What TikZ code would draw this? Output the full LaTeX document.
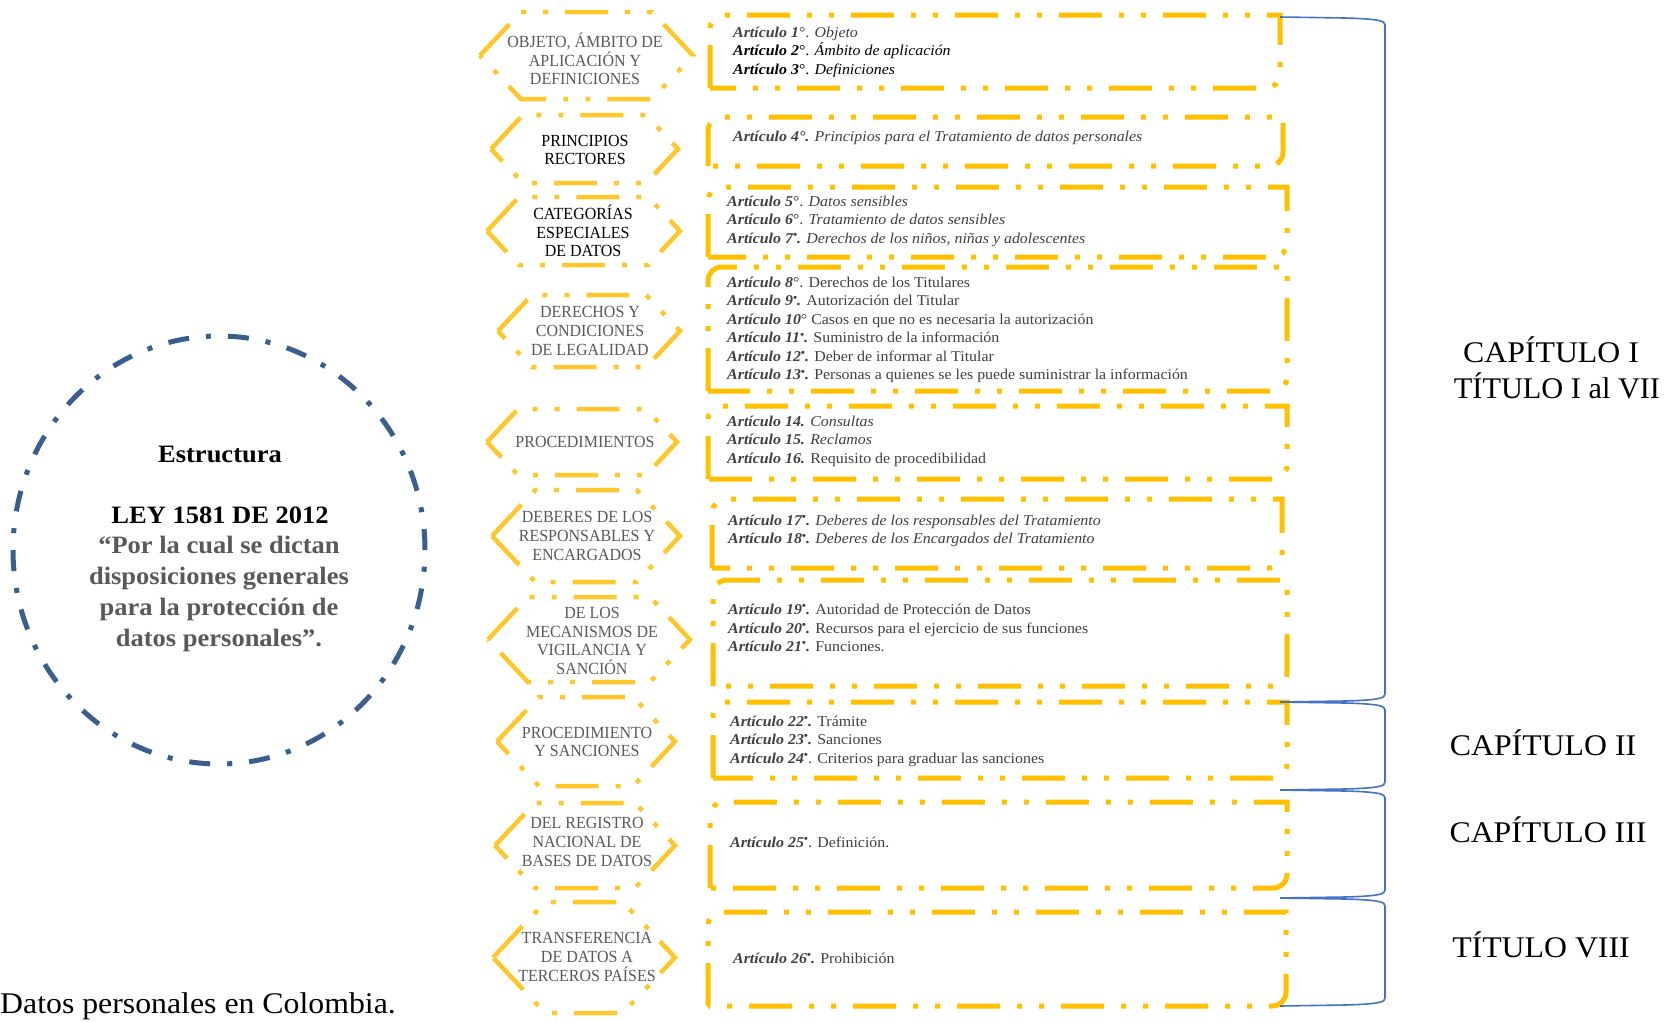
\documentclass[tikz,border=0pt]{standalone}
\usepackage{fontspec}
\setmainfont{Liberation Serif}[FakeStretch=1.06]
\newfontfamily\hexfont{Liberation Serif}[FakeStretch=0.94]
\newfontfamily\plainserif{Liberation Serif}[FakeStretch=1.01]
\definecolor{hexc}{HTML}{FFC72C}
\definecolor{boxc}{HTML}{FFC000}
\definecolor{circc}{HTML}{3A5F8F}
\definecolor{bracec}{HTML}{4472C4}
\definecolor{txtgray}{HTML}{595959}
\definecolor{boxtxt}{HTML}{404040}
\tikzset{
 hexline/.style={draw=hexc, line width=4.5pt, dash pattern=on 43pt off 17pt on 5pt off 17pt on 5pt off 17pt},
 boxline/.style={draw=boxc, line width=5pt, dash pattern=on 43pt off 17pt on 5pt off 17pt on 5pt off 17pt},
 circline/.style={draw=circc, line width=5pt, dash pattern=on 21pt off 17pt on 5pt off 17pt},
 bracket/.style={draw=bracec, line width=1.6pt},
 hextext/.style={align=center, font=\hexfont\fontsize{17}{18.7}\selectfont, text=txtgray, inner sep=0pt},
 arttext/.style={align=left, anchor=west, font=\fontsize{15}{18.5}\selectfont, text=boxtxt, inner sep=0pt},
 bigtext/.style={anchor=base, font=\fontsize{30}{36}\selectfont, text=black, inner sep=0pt},
 circtext/.style={anchor=base, font=\fontsize{25}{31}\selectfont\bfseries, inner sep=0pt},
}
\newcommand\artic[1]{\textbf{\textit{#1}}}
\newcommand\bul{\raisebox{0.32em}{\fontsize{11}{11}\selectfont •}}
\newcommand\hexag[4]{% left right top bottom
 \draw[hexline] (#1,{(#3+#4)/2}) -- ({#1+0.47*(#4-#3)},#3) -- ({#2-0.47*(#4-#3)},#3) -- (#2,{(#3+#4)/2}) -- ({#2-0.47*(#4-#3)},#4) -- ({#1+0.47*(#4-#3)},#4) -- cycle;}
\newcommand\yelbox[4]{% x1 y1 x2 y2
 \draw[boxline] (#1,#4) -- (#1,{#2+14}) .. controls (#1,{#2+6}) and ({#1+6},#2) .. ({#1+14},#2) -- (#3,#2) -- (#3,{#4-14}) .. controls (#3,{#4-6}) and ({#3-6},#4) .. ({#3-14},#4) -- cycle;}
\newcommand\sidebrace[2]{% ytop ybottom
 \draw[bracket] (1280,#1) -- (1345,{#1+1}) .. controls (1380,{#1+2}) and (1385,{#1+4}) .. (1385,{#1+8}) -- (1385,{#2-8}) .. controls (1385,{#2-4}) and (1380,{#2-2}) .. (1345,{#2-1}) -- (1280,#2);}
\begin{document}
\begin{tikzpicture}[x=1pt,y=-1pt]
\useasboundingbox (0,0) rectangle (1673,1021);
\fill[white] (0,0) rectangle (1673,1021);

% circle
\draw[circline] (219,550) ellipse [x radius=206pt, y radius=214pt];
\node[circtext] (c1) at (220,462) {Estructura};
\node[circtext] (c2) at (220,523) {LEY 1581 DE 2012};
\node[circtext, text=txtgray] (c3) at (219,553) {“Por la cual se dictan};
\node[circtext, text=txtgray] (c4) at (219,584) {disposiciones generales};
\node[circtext, text=txtgray] (c5) at (219,615) {para la protección de};
\node[circtext, text=txtgray] (c6) at (219,646) {datos personales”.};
\node[anchor=base west, font=\fontsize{30}{36}\selectfont, inner sep=0pt] (cap) at (0,1013) {Datos personales en Colombia.};

% hexagons
\hexag{480}{693}{12}{99}
\hexag{491}{678}{115}{183}
\hexag{487}{680}{197}{265}
\hexag{498}{680}{295}{367}
\hexag{487}{677}{409}{475}
\hexag{492}{680}{490}{582}
\hexag{488}{690}{597}{682}
\hexag{497}{675}{697}{786}
\hexag{495}{675}{803}{888}
\hexag{493}{675}{902}{1013}
\node[hextext] (h1) at (585,59) {OBJETO, ÁMBITO DE\\APLICACIÓN Y\\DEFINICIONES};
\node[hextext, text=black] (h2) at (585,150) {PRINCIPIOS\\RECTORES};
\node[hextext, text=black] (h3) at (583,231) {CATEGORÍAS\\ESPECIALES\\DE DATOS};
\node[hextext] (h4) at (590,331) {DERECHOS Y\\CONDICIONES\\DE LEGALIDAD};
\node[hextext] (h5) at (585,442) {PROCEDIMIENTOS};
\node[hextext] (h6) at (587,536) {DEBERES DE LOS\\RESPONSABLES Y\\ENCARGADOS};
\node[hextext] (h7) at (592,641) {DE LOS\\MECANISMOS DE\\VIGILANCIA Y\\SANCIÓN};
\node[hextext] (h8) at (587,742) {PROCEDIMIENTO\\Y SANCIONES};
\node[hextext] (h9) at (587,842) {DEL REGISTRO\\NACIONAL DE\\BASES DE DATOS};
\node[hextext] (h10) at (587,957) {TRANSFERENCIA\\DE DATOS A\\TERCEROS PAÍSES};

% article boxes
\yelbox{710}{15}{1280}{88}
\yelbox{708}{117}{1283}{166}
\yelbox{708}{187}{1287}{257}
\yelbox{708}{267}{1287}{391}
\yelbox{708}{406}{1287}{479}
\yelbox{712}{499}{1282}{568}
\yelbox{713}{580}{1287}{686}
\yelbox{713}{702}{1287}{778}
\yelbox{710}{802}{1287}{888}
\yelbox{708}{912}{1286}{1006}

\node[arttext] (a1) at (733,52) {\artic{Artículo 1}°. \textit{Objeto}\\
\textcolor{black}{\artic{Artículo 2}°. \textit{Ámbito de aplicación}}\\
\textcolor{black}{\artic{Artículo 3}°. \textit{Definiciones}}};
\node[arttext] (a2) at (733,138) {\artic{Artículo 4°.} \textit{Principios para el Tratamiento de datos personales}};
\node[arttext] (a3) at (727,221) {\artic{Artículo 5}°. \textit{Datos sensibles}\\
\artic{Artículo 6}°. \textit{Tratamiento de datos sensibles}\\
\artic{Artículo 7\bul.} \textit{Derechos de los niños, niñas y adolescentes}};
\node[arttext] (a4) at (727,330) {\artic{Artículo 8}°. Derechos de los Titulares\\
\artic{Artículo 9\bul.} Autorización del Titular\\
\artic{Artículo 10}° Casos en que no es necesaria la autorización\\
\artic{Artículo 11\bul.} Suministro de la información\\
\artic{Artículo 12\bul.} Deber de informar al Titular\\
\artic{Artículo 13\bul.} Personas a quienes se les puede suministrar la información};
\node[arttext] (a5) at (727,441) {\artic{Artículo 14.} \textit{Consultas}\\
\artic{Artículo 15.} \textit{Reclamos}\\
\artic{Artículo 16.} Requisito de procedibilidad};
\node[arttext] (a6) at (728,531) {\artic{Artículo 17\bul.} \textit{Deberes de los responsables del Tratamiento}\\
\artic{Artículo 18\bul.} \textit{Deberes de los Encargados del Tratamiento}};
\node[arttext] (a7) at (728,628) {\artic{Artículo 19\bul.} Autoridad de Protección de Datos\\
\artic{Artículo 20\bul.} Recursos para el ejercicio de sus funciones\\
\artic{Artículo 21\bul.} Funciones.};
\node[arttext] (a8) at (730,741) {\artic{Artículo 22\bul.} Trámite\\
\artic{Artículo 23\bul.} Sanciones\\
\artic{Artículo 24\bul}. Criterios para graduar las sanciones};
\node[arttext] (a9) at (730,842) {\artic{Artículo 25\bul}. Definición.};
\node[arttext] (a10) at (733,958) {\artic{Artículo 26\bul.} Prohibición};

% brackets
\sidebrace{17}{702}
\sidebrace{702}{790}
\sidebrace{790}{898}
\sidebrace{898}{1006}

\node[bigtext] (l1) at (1551,362) {CAPÍTULO I};
\node[bigtext, font=\plainserif\fontsize{30}{36}\selectfont] (l1b) at (1557,398) {TÍTULO I al VII};
\node[bigtext] (l2) at (1543,755) {CAPÍTULO II};
\node[bigtext] (l3) at (1548,842) {CAPÍTULO III};
\node[bigtext] (l4) at (1541,957) {TÍTULO VIII};
\end{tikzpicture}
\end{document}
